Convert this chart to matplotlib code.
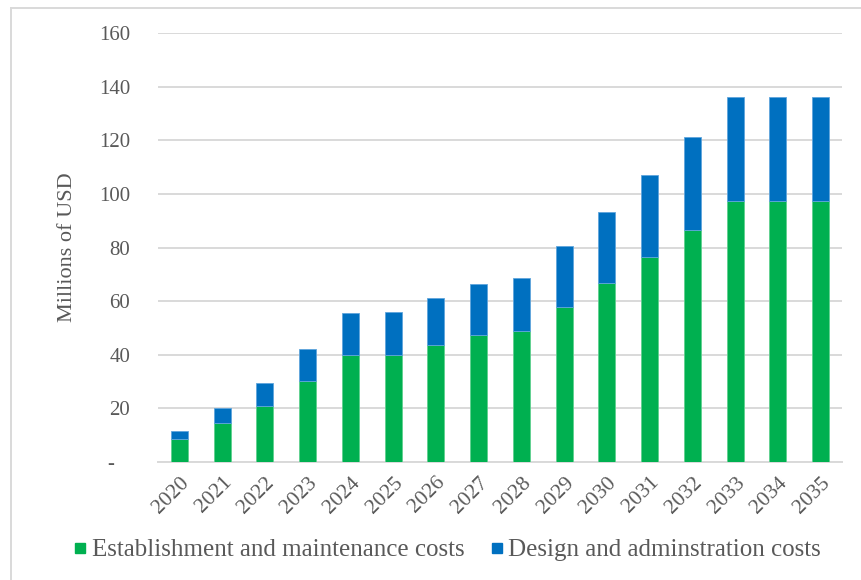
import numpy as np
import matplotlib.pyplot as plt
from matplotlib.lines import Line2D

# data (millions of USD)
years = ['2020', '2021', '2022', '2023', '2024', '2025', '2026', '2027',
         '2028', '2029', '2030', '2031', '2032', '2033', '2034', '2035']
establishment = [8.5, 14.4, 21.0, 30.3, 39.8, 40.0, 43.5, 47.5,
                 49.0, 57.7, 66.7, 76.4, 86.5, 97.3, 97.3, 97.3]
total = [11.7, 20.3, 29.5, 42.0, 55.5, 56.0, 61.0, 66.4,
         68.5, 80.6, 93.4, 107.0, 121.2, 136.2, 136.2, 136.2]
design = [t - e for t, e in zip(total, establishment)]
yticks = [0, 20, 40, 60, 80, 100, 120, 140, 160]
ytick_labels = ['-   ', '20', '40', '60', '80', '100', '120', '140', '160']

green = '#00b050'
blue = '#0070c0'
grey_txt = '#595959'
grid_col = '#d9d9d9'

plt.rcParams['font.family'] = ['Liberation Serif', 'DejaVu Serif']

fig = plt.figure(figsize=(8.62, 5.8), dpi=100)
ax = fig.add_axes([0.1833, 0.2034, 0.7935, 0.7397])

x = np.arange(len(years))
ax.bar(x, establishment, width=0.4, color=green, edgecolor='#5fd08f', linewidth=0.6,
       label='Establishment and maintenance costs', zorder=3)
ax.bar(x, design, width=0.4, bottom=establishment, color=blue, edgecolor='#5fa5dc',
       linewidth=0.6, label='Design and adminstration costs', zorder=3)

ax.set_xlim(-0.5, len(years) - 0.5)
ax.set_ylim(0, 160)
ax.set_yticks(yticks)
ax.set_yticklabels(ytick_labels)
ax.set_xticks(x)
ax.set_xticklabels(years, rotation=45, ha='right', rotation_mode='anchor')

ax.yaxis.grid(True, color=grid_col, linewidth=1.4, zorder=0)
ax.set_axisbelow(True)
for s in ['top', 'right', 'left']:
    ax.spines[s].set_visible(False)
ax.spines['bottom'].set_color(grid_col)
ax.spines['bottom'].set_linewidth(1.4)
ax.tick_params(axis='y', length=0, pad=20, labelsize=15, labelcolor=grey_txt)
ax.tick_params(axis='x', length=0, pad=8, labelsize=15.5, labelcolor=grey_txt)

ax.set_ylabel('Millions of USD', fontsize=16, color=grey_txt, labelpad=16)

# legend with square markers
handles = [Line2D([], [], marker='s', linestyle='', color=green, markersize=7.5),
           Line2D([], [], marker='s', linestyle='', color=blue, markersize=7.5)]
fig.legend(handles, ['Establishment and maintenance costs', 'Design and adminstration costs'],
           loc='center', bbox_to_anchor=(0.517, 1 - 550 / 580), ncol=2, frameon=False,
           fontsize=18, labelcolor=grey_txt, handletextpad=0.05, columnspacing=0.9,
           handlelength=0.8)

# light chart-area border (left and top edges visible)
fig.add_artist(Line2D([11 / 862, 11 / 862], [0, 1 - 8 / 580], transform=fig.transFigure,
                      color=grid_col, linewidth=1.4))
fig.add_artist(Line2D([11 / 862, 1], [1 - 8 / 580, 1 - 8 / 580], transform=fig.transFigure,
                      color=grid_col, linewidth=1.4))

fig.savefig('out.png', dpi=100)
